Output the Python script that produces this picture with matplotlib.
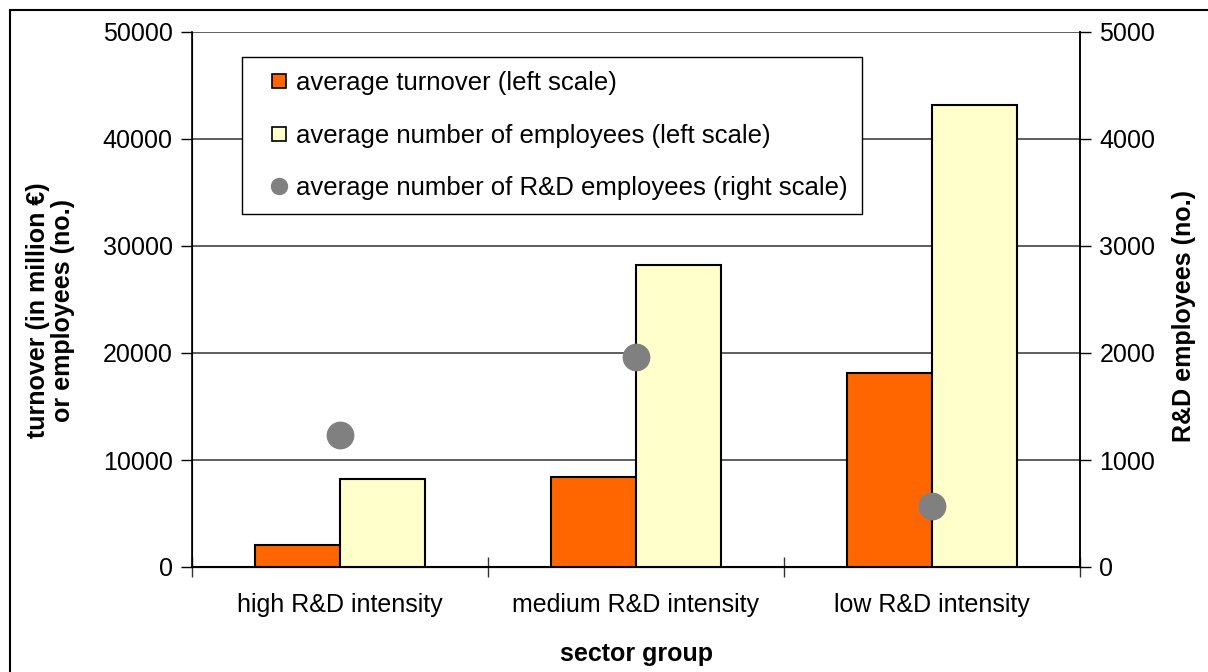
import matplotlib
matplotlib.use("Agg")
import matplotlib.pyplot as plt
import numpy as np
from matplotlib.lines import Line2D
from matplotlib.patches import Rectangle

categories = ["high R&D intensity", "medium R&D intensity", "low R&D intensity"]
turnover = [2050, 8400, 18150]
employees = [8200, 28200, 43200]
rd_employees = [1230, 1960, 570]

left_ticks = [0, 10000, 20000, 30000, 40000, 50000]
right_ticks = [0, 1000, 2000, 3000, 4000, 5000]

plt.rcParams['font.family'] = ['Liberation Sans', 'DejaVu Sans']
FS = 18
LFS = 18.5

fig = plt.figure(figsize=(12.08, 6.72), dpi=100)
W, H = 1208, 672
AX_L, AX_R, AX_T, AX_B = 192, 1080, 32, 567
ax = fig.add_axes([AX_L / W, 1 - AX_B / H, (AX_R - AX_L) / W, (AX_B - AX_T) / H])
aw, ah = AX_R - AX_L, AX_B - AX_T

# outer frame
fig.patches.append(Rectangle((10 / W, -0.1), 1.2, (1 - 10 / H) + 0.1, transform=fig.transFigure,
                             fill=False, edgecolor='black', linewidth=1.5, zorder=0))

x = np.arange(len(categories))
bw = 0.288
ax.bar(x - bw / 2, turnover, bw, color='#FF6600', edgecolor='black', linewidth=1.5, zorder=3)
ax.bar(x + bw / 2, employees, bw, color='#FFFFCC', edgecolor='black', linewidth=1.5, zorder=3)

ax.set_xlim(-0.5, len(categories) - 0.5)
ax.set_ylim(0, 50000)
ax.set_yticks(left_ticks)
ax.set_yticklabels([str(t) for t in left_ticks], fontsize=FS)
ax.yaxis.grid(True, color='#333333', linewidth=1.1, zorder=0)
ax.set_axisbelow(True)

ax.set_xticks(np.arange(len(categories) + 1) - 0.5)
ax.set_xticklabels([])
ax.set_xticks(x, minor=True)
ax.set_xticklabels(categories, minor=True, fontsize=FS)
ax.tick_params(axis='x', which='major', direction='inout', length=14, width=1, color='#333333')
ax.tick_params(axis='x', which='minor', length=0, pad=19)
ax.tick_params(axis='y', direction='out', length=8, width=1, pad=6)

ax.spines['top'].set_visible(False)
ax.spines['left'].set_linewidth(1.2)
ax.spines['bottom'].set_linewidth(1.5)
ax.spines['right'].set_linewidth(1.2)

ax.set_ylabel("turnover (in million €)\nor employees (no.)", fontsize=FS, fontweight='bold',
              linespacing=1.05)
ax.yaxis.set_label_coords((75 - AX_L) / aw, 0.48)
ax.set_xlabel("sector group", fontsize=FS, fontweight='bold')
ax.xaxis.set_label_coords(0.5, (AX_B - 642) / ah)

ax2 = ax.twinx()
ax2.set_ylim(0, 5000)
ax2.set_yticks(right_ticks)
ax2.set_yticklabels([str(t) for t in right_ticks], fontsize=FS)
ax2.tick_params(axis='y', direction='out', length=8, width=1, pad=6)
ax2.spines['top'].set_visible(False)
ax2.spines['right'].set_linewidth(1.2)
ax2.plot(x, rd_employees, linestyle='none', marker='o', markersize=19, color='#808080', zorder=5)
ax2.set_ylabel("R&D employees (no.)", fontsize=FS, fontweight='bold')
ax2.yaxis.set_label_coords((1172 - AX_L) / aw, 0.47)
ax2.set_zorder(ax.get_zorder() + 1)
ax2.patch.set_visible(False)

handles = [
    Line2D([], [], linestyle='none', marker='s', markersize=10, markerfacecolor='#FF6600', markeredgecolor='black', markeredgewidth=1.2),
    Line2D([], [], linestyle='none', marker='s', markersize=10, markerfacecolor='#FFFFCC', markeredgecolor='black', markeredgewidth=1.2),
    Line2D([], [], linestyle='none', marker='o', markersize=11.5, markerfacecolor='#808080', markeredgecolor='#808080'),
]
labels = ["average turnover (left scale)",
          "average number of employees (left scale)",
          "average number of R&D employees (right scale)"]
leg = ax2.legend(handles, labels, loc='upper left', bbox_to_anchor=((242 - AX_L) / aw, (AX_B - 57) / ah),
                 fontsize=LFS, frameon=True, fancybox=False, edgecolor='black', framealpha=1,
                 handlelength=1.75, handletextpad=-0.2, labelspacing=1.11, borderpad=0.55,
                 borderaxespad=0)
leg.get_frame().set_linewidth(1.0)

fig.savefig("out.png", dpi=100)
